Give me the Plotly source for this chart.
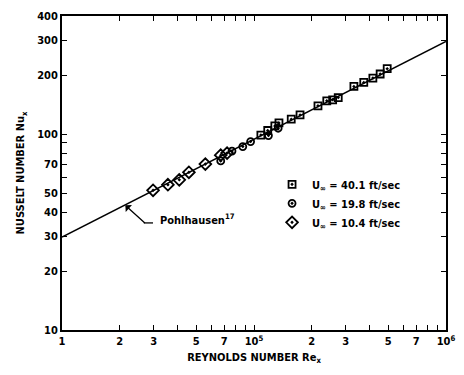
import plotly.graph_objects as go

# Pohlhausen theoretical line (endpoints)
re_line = [1e4, 1e6]
nu_line = [29.8, 297.0]

# U_inf = 40.1 ft/sec (squares)
re_sq = [1.086e5, 1.179e5, 1.284e5, 1.349e5, 1.563e5, 1.737e5, 2.154e5, 2.394e5,
         2.568e5, 2.746e5, 3.314e5, 3.73e5, 4.16e5, 4.54e5, 4.94e5]
nu_sq = [98.8, 104.2, 109.9, 113.9, 119.0, 125.1, 139.2, 147.6,
         149.4, 153.5, 174.8, 183.3, 193.0, 202.4, 215.4]

# U_inf = 19.8 ft/sec (circles)
re_ci = [6.71e4, 7.68e4, 8.74e4, 9.60e4, 1.189e5, 1.336e5]
nu_ci = [72.9, 81.8, 86.3, 91.5, 98.2, 107.0]

# U_inf = 10.4 ft/sec (diamonds)
re_di = [2.98e4, 3.56e4, 4.08e4, 4.58e4, 5.58e4, 6.71e4, 7.24e4]
nu_di = [51.6, 55.1, 58.4, 63.8, 70.2, 78.0, 79.9]

x_tickvals = [1e4, 2e4, 3e4, 4e4, 5e4, 6e4, 7e4, 8e4, 9e4,
              1e5, 2e5, 3e5, 4e5, 5e5, 6e5, 7e5, 8e5, 9e5, 1e6]
x_ticktext = ["1", "2", "3", "", "5", "", "7", "", "",
              "10<sup>5</sup>", "2", "3", "", "5", "", "7", "", "", "10<sup>6</sup>"]
y_tickvals = [10, 20, 30, 40, 50, 60, 70, 80, 90, 100, 200, 300, 400]
y_ticktext = ["10", "20", "30", "40", "50", "", "70", "", "", "100", "200", "300", "400"]

FONT = "DejaVu Sans Condensed, DejaVu Sans, sans-serif"

fig = go.Figure()
fig.add_trace(go.Scatter(x=re_line, y=nu_line, mode="lines",
                         line=dict(color="black", width=1.6), showlegend=False))
fig.add_trace(go.Scatter(x=re_sq, y=nu_sq, mode="markers", name="U<sub>∞</sub> = 40.1 ft/sec",
                         marker=dict(symbol="square-open-dot", size=7, color="black",
                                     line=dict(width=1.8, color="black"))))
fig.add_trace(go.Scatter(x=re_ci, y=nu_ci, mode="markers", name="U<sub>∞</sub> = 19.8 ft/sec",
                         marker=dict(symbol="circle-open-dot", size=7, color="black",
                                     line=dict(width=1.8, color="black"))))
fig.add_trace(go.Scatter(x=re_di, y=nu_di, mode="markers", name="U<sub>∞</sub> = 10.4 ft/sec",
                         marker=dict(symbol="diamond-open-dot", size=9, color="black",
                                     line=dict(width=1.8, color="black"))))

# Pohlhausen label with bent leader arrow
fig.add_annotation(x=4.33, y=1.636, xref="x", yref="y", text=" ", showarrow=True,
                   ax=20, ay=18, arrowhead=1, arrowsize=1.2, arrowwidth=1.3, arrowcolor="black",
                   font=dict(size=1), borderpad=0)
fig.add_shape(type="line", xref="paper", yref="paper", x0=0.213, x1=0.237, y0=0.341, y1=0.341,
              line=dict(color="black", width=1.3))
fig.add_annotation(x=4.5, y=1.565, xref="x", yref="y", text="Pohlhausen<sup>17</sup>",
                   showarrow=False, xanchor="left", yanchor="middle",
                   font=dict(family=FONT, size=11, color="black", weight="bold"))

axis_common = dict(type="log", showgrid=False, zeroline=False, showline=True,
                   linecolor="black", linewidth=2, ticks="inside", ticklen=5,
                   tickwidth=1.3, tickcolor="black", mirror="ticks",
                   tickfont=dict(family=FONT, size=11, color="black", weight="bold"))

fig.update_layout(
    width=464, height=375,
    margin=dict(l=62, r=9, t=16, b=45),
    paper_bgcolor="white", plot_bgcolor="white",
    font=dict(family=FONT, size=11, color="black"),
    xaxis=dict(range=[4, 6], tickmode="array", tickvals=x_tickvals, ticktext=x_ticktext,
               title=dict(text="REYNOLDS NUMBER Re<sub>x</sub>", standoff=6,
                          font=dict(family=FONT, size=11, weight="bold")), **axis_common),
    yaxis=dict(range=[1, 2.60206], tickmode="array", tickvals=y_tickvals, ticktext=y_ticktext,
               title=dict(text="NUSSELT NUMBER Nu<sub>x</sub>", standoff=10,
                          font=dict(family=FONT, size=11, weight="bold")), **axis_common),
    legend=dict(x=0.547, y=0.51, xanchor="left", yanchor="top", bgcolor="rgba(0,0,0,0)",
                font=dict(family=FONT, size=11, weight="bold"), itemwidth=30, tracegroupgap=0),
)

fig.write_html("out.html")
